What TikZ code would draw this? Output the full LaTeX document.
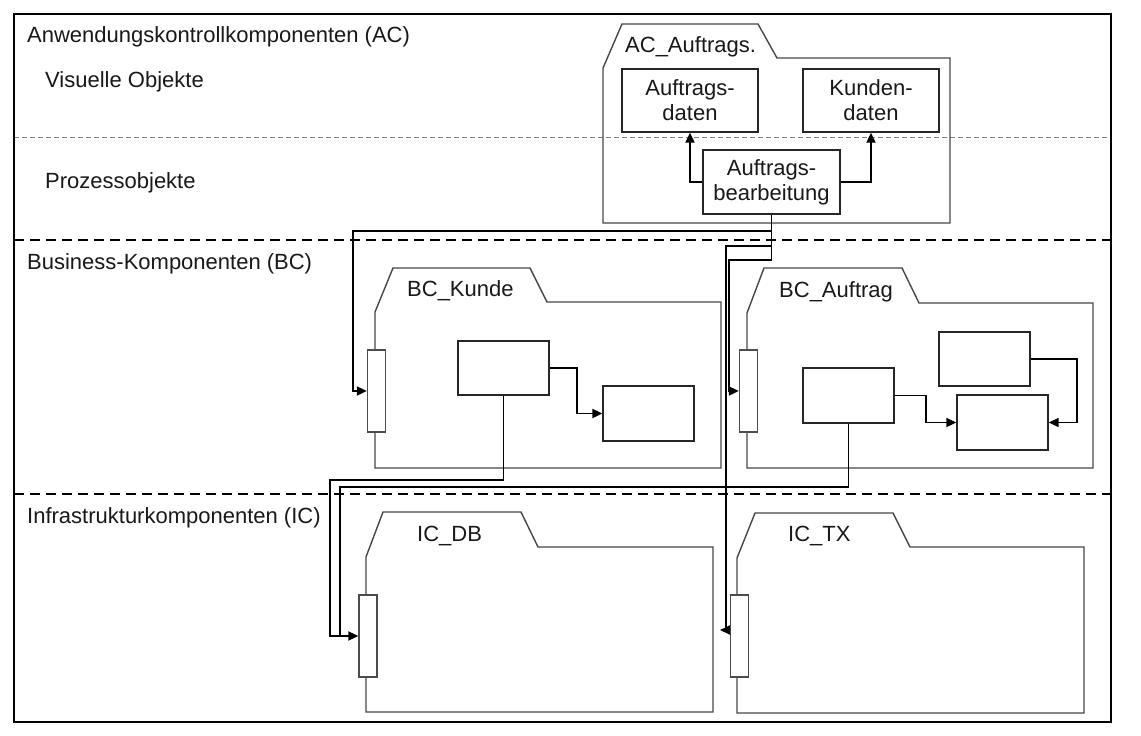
\documentclass[tikz,border=0pt]{standalone}
\usepackage{fontspec}
\setmainfont{Liberation Sans}
\usetikzlibrary{arrows.meta}
\begin{document}
\begin{tikzpicture}[x=1pt,y=-1pt,
  every node/.style={font=\fontsize{22}{25}\selectfont, text=black!90},
  lbl/.style={anchor=base west, inner sep=0pt},
  pkg/.style={draw=black!72, line width=1.4pt, line join=miter},
  box/.style={draw=black!85, line width=1.3pt, rectangle, inner sep=0pt, align=center},
  iface/.style={draw=black!70, fill=white, line width=1.3pt, rectangle, inner sep=0pt, minimum width=18pt, minimum height=82pt},
  conn/.style={draw=black, line width=1.8pt},
  tip/.style={-{Triangle[length=10pt,width=9pt]}},
  sep/.style={draw=black, line width=2.5pt, dash pattern=on 10pt off 6pt},
  thinsep/.style={draw=black!50, line width=1pt, dash pattern=on 5pt off 3pt}]
\useasboundingbox (0,0) rectangle (1141,736);
\fill[white] (0,0) rectangle (1141,736);

% layer separators
\draw[thinsep] (14,137) -- (1111,137);
\draw[sep] (14,240) -- (1111,240);
\draw[sep] (14,494) -- (1111,494);

% layer labels
\node[lbl] (lac) at (27,42) {Anwendungskontrollkomponenten (AC)};
\node[lbl] (lvo) at (45,87) {Visuelle Objekte};
\node[lbl] (lpo) at (45,188) {Prozessobjekte};
\node[lbl] (lbc) at (27,269) {Business-Komponenten (BC)};
\node[lbl] (lic) at (27,523) {Infrastrukturkomponenten (IC)};

% packages
\draw[pkg] (603,68) -- (622,24) -- (758,24) -- (777,58) -- (950,58) -- (950,223) -- (603,223) -- cycle;
\draw[pkg] (375,312) -- (393,268) -- (530,268) -- (547,302) -- (721,302) -- (721,468) -- (375,468) -- cycle;
\draw[pkg] (747,313) -- (764,268) -- (902,268) -- (919,303) -- (1093,303) -- (1093,468) -- (747,468) -- cycle;
\draw[pkg] (366,557) -- (383,512) -- (521,512) -- (538,547) -- (713,547) -- (713,712) -- (366,712) -- cycle;
\draw[pkg] (737,558) -- (755,513) -- (893,513) -- (910,547) -- (1084,547) -- (1084,713) -- (737,713) -- cycle;

\node[lbl] (pac) at (625,52) {AC\_Auftrags.};
\node[lbl] (pbk) at (407,296) {BC\_Kunde};
\node[lbl] (pba) at (779,297) {BC\_Auftrag};
\node[lbl] (pdb) at (417,541) {IC\_DB};
\node[lbl] (ptx) at (788,541) {IC\_TX};

% AC boxes
\node[box, minimum width=136pt, minimum height=63pt] (ad) at (690,100.5) {Auftrags-\\daten};
\node[box, minimum width=136pt, minimum height=63pt] (kd) at (871,100.5) {Kunden-\\daten};
\node[box, minimum width=137pt, minimum height=64pt] (ab) at (771.5,182) {Auftrags-\\bearbeitung};

% BC boxes
\node[box, minimum width=91pt, minimum height=54pt] (k1) at (503.5,368) {};
\node[box, minimum width=91pt, minimum height=55pt] (k2) at (648.5,413.5) {};
\node[box, minimum width=91pt, minimum height=55pt] (a1) at (848.5,395.5) {};
\node[box, minimum width=91pt, minimum height=54pt] (a2) at (984.5,359) {};
\node[box, minimum width=91pt, minimum height=55pt] (a3) at (1002.5,422.5) {};

% interfaces
\node[iface] (ik) at (376.5,391) {};
\node[iface] (ia) at (748.5,391) {};
\node[iface] (idb) at (368,636) {};
\node[iface] (itx) at (739.5,636) {};

% connectors inside AC
\draw[conn,tip] (ab.west) -| (ad.south);
\draw[conn,tip] (ab.east) -| (kd.south);

% connectors inside BC
\draw[conn,tip] (k1.east) -- (577,368) |- (k2.west);
\draw[conn,tip] (a1.east) -- (926,395.5) |- (a3.west);
\draw[conn,tip] (a2.east) -- (1077,359) |- (a3.east);

% cross-layer connectors
\coordinate (txend) at (720,630);
\draw[conn,tip] (ab.south) |- (353,231) |- (ik.west);
\draw[conn,tip] (ab.south) |- (729,260) |- (ia.west);
\draw[conn,tip] (ab.south) |- (726,246) -- (726,630) -- (txend);
\draw[conn,tip] (k1.south) |- (330,480) |- (idb.west);
\draw[conn] (a1.south) |- (340,487) -- (340,636);

% outer frame
\draw[line width=2.8pt] (14,14) rectangle (1111,722);
\end{tikzpicture}
\end{document}
